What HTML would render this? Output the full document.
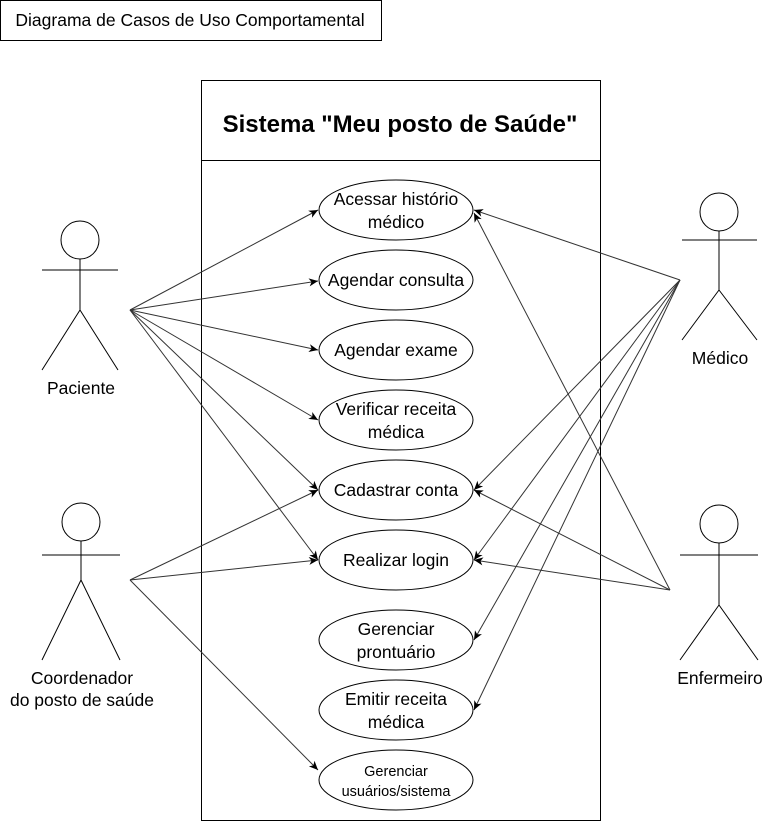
<!DOCTYPE html>
<html><head><meta charset="utf-8"><style>
body{margin:0;background:#fff;}
svg{display:block;font-family:"Liberation Sans",Arial,sans-serif;}
</style></head><body>
<svg width="764" height="822" viewBox="0 0 764 822" xmlns="http://www.w3.org/2000/svg">
<defs><marker id="a" markerWidth="10" markerHeight="10" refX="9" refY="5" orient="auto" markerUnits="userSpaceOnUse"><path d="M0,1 L9,5 L0,9 L2.5,5 Z" fill="#000"/></marker></defs>
<rect x="0.5" y="0.5" width="381" height="40" fill="#fff" stroke="#000"/>
<text x="190" y="26" font-size="17.5" text-anchor="middle">Diagrama de Casos de Uso Comportamental</text>
<rect x="201.5" y="80.5" width="399" height="740" fill="#fff" stroke="#000"/>
<line x1="201" y1="160.5" x2="600" y2="160.5" stroke="#000"/>
<text x="400" y="132" font-size="24" font-weight="bold" text-anchor="middle">Sistema "Meu posto de Saúde"</text>
<g fill="#fff" stroke="#000">
<ellipse cx="396" cy="210" rx="77" ry="30"/>
<ellipse cx="396" cy="280" rx="77" ry="30"/>
<ellipse cx="396" cy="350" rx="77" ry="30"/>
<ellipse cx="396" cy="420" rx="77" ry="30"/>
<ellipse cx="396" cy="490" rx="77" ry="30"/>
<ellipse cx="396" cy="560" rx="77" ry="30"/>
<ellipse cx="396" cy="640" rx="77" ry="30"/>
<ellipse cx="396" cy="710" rx="77" ry="30"/>
<ellipse cx="396" cy="780" rx="77" ry="30"/>
</g>
<g font-size="17.5" text-anchor="middle">
<text x="396" y="205">Acessar histório</text><text x="396" y="228">médico</text>
<text x="396" y="286">Agendar consulta</text>
<text x="396" y="356">Agendar exame</text>
<text x="396" y="415">Verificar receita</text><text x="396" y="438">médica</text>
<text x="396" y="496">Cadastrar conta</text>
<text x="396" y="566">Realizar login</text>
<text x="396" y="635">Gerenciar</text><text x="396" y="658">prontuário</text>
<text x="396" y="705">Emitir receita</text><text x="396" y="728">médica</text>
<text x="396" y="776" font-size="14.5">Gerenciar</text><text x="396" y="796" font-size="14.5">usuários/sistema</text>
</g>
<g stroke="#000" fill="none" stroke-width="1">
<circle cx="80" cy="240" r="19" fill="#fff"/><path d="M80 259V310M42 270H118M80 310L42 370M80 310L118 370"/>
<circle cx="81" cy="522" r="19" fill="#fff"/><path d="M81 541V580M42 555H120M81 580L42 660M81 580L120 660"/>
<circle cx="719" cy="212" r="19" fill="#fff"/><path d="M719 231V290M682 240H757M719 290L682 340M719 290L757 340"/>
<circle cx="719" cy="524" r="19" fill="#fff"/><path d="M719 543V605M680 555H758M719 605L680 660M719 605L758 660"/>
</g>
<g stroke="#333" stroke-width="1" marker-end="url(#a)">
<line x1="130" y1="310" x2="318" y2="210"/>
<line x1="130" y1="310" x2="318" y2="281"/>
<line x1="130" y1="310" x2="318" y2="350"/>
<line x1="130" y1="310" x2="318" y2="420"/>
<line x1="130" y1="310" x2="318" y2="490"/>
<line x1="130" y1="310" x2="318" y2="560"/>
<line x1="130" y1="580" x2="318" y2="490"/>
<line x1="130" y1="580" x2="318" y2="560"/>
<line x1="130" y1="580" x2="318" y2="770"/>
<line x1="680" y1="280" x2="474" y2="210"/>
<line x1="680" y1="280" x2="474" y2="490"/>
<line x1="680" y1="280" x2="474" y2="560"/>
<line x1="680" y1="280" x2="474" y2="640"/>
<line x1="680" y1="280" x2="474" y2="710"/>
<line x1="670" y1="590" x2="474" y2="213"/>
<line x1="670" y1="590" x2="474" y2="490"/>
<line x1="670" y1="590" x2="474" y2="560"/>
</g>
<g font-size="17.5" text-anchor="middle">
<text x="81" y="394">Paciente</text>
<text x="82" y="684">Coordenador</text><text x="82" y="706">do posto de saúde</text>
<text x="720" y="364">Médico</text>
<text x="720" y="684">Enfermeiro</text>
</g>
</svg>
</body></html>
